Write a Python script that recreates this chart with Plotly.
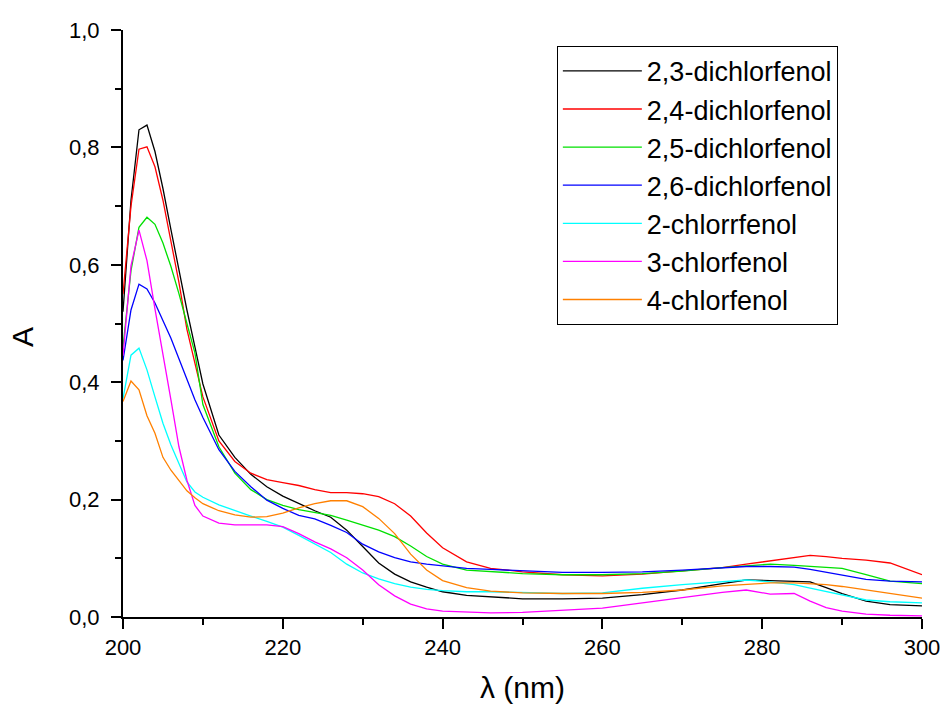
import plotly.graph_objects as go

wavelength = [200, 201, 202, 203, 204, 205, 206, 207, 208, 209, 210, 212, 214, 216, 218, 220,
              222, 224, 226, 228, 230, 232, 234, 236, 238, 240, 243, 246, 250, 255, 260, 265,
              270, 275, 278, 281, 284, 286, 288, 290, 293, 296, 300]

dcp_23 = [0.52, 0.71, 0.830, 0.838, 0.793, 0.73, 0.66, 0.59, 0.523, 0.46, 0.397, 0.31, 0.272, 0.243,
          0.222, 0.206, 0.193, 0.181, 0.170, 0.148, 0.120, 0.092, 0.073, 0.060, 0.051, 0.043, 0.037,
          0.034, 0.031, 0.031, 0.032, 0.038, 0.046, 0.057, 0.063, 0.062, 0.061, 0.060, 0.050, 0.040,
          0.027, 0.021, 0.019]
dcp_24 = [0.55, 0.70, 0.797, 0.801, 0.767, 0.71, 0.64, 0.57, 0.49, 0.43, 0.375, 0.30, 0.265, 0.245,
          0.234, 0.229, 0.224, 0.217, 0.212, 0.212, 0.210, 0.205, 0.193, 0.172, 0.143, 0.118, 0.094,
          0.083, 0.077, 0.072, 0.070, 0.073, 0.079, 0.084, 0.090, 0.096, 0.101, 0.105, 0.103, 0.100,
          0.097, 0.092, 0.072]
dcp_25 = [0.46, 0.59, 0.664, 0.681, 0.669, 0.637, 0.597, 0.551, 0.50, 0.45, 0.362, 0.29, 0.245, 0.217,
          0.200, 0.190, 0.183, 0.178, 0.173, 0.165, 0.157, 0.148, 0.137, 0.121, 0.103, 0.090, 0.080,
          0.077, 0.074, 0.072, 0.072, 0.074, 0.078, 0.084, 0.087, 0.090, 0.088, 0.086, 0.084, 0.083,
          0.072, 0.061, 0.057]
dcp_26 = [0.437, 0.523, 0.567, 0.559, 0.535, 0.505, 0.475, 0.44, 0.404, 0.37, 0.34, 0.285, 0.248, 0.222,
          0.199, 0.185, 0.173, 0.167, 0.156, 0.144, 0.124, 0.111, 0.101, 0.094, 0.090, 0.087, 0.083,
          0.081, 0.079, 0.076, 0.076, 0.077, 0.080, 0.083, 0.086, 0.086, 0.085, 0.081, 0.076, 0.071,
          0.064, 0.061, 0.060]
cp_2 = [0.372, 0.446, 0.458, 0.421, 0.375, 0.33, 0.293, 0.26, 0.23, 0.213, 0.204, 0.191, 0.181, 0.172,
        0.163, 0.153, 0.139, 0.125, 0.110, 0.090, 0.075, 0.065, 0.057, 0.051, 0.047, 0.045, 0.043,
        0.043, 0.042, 0.040, 0.041, 0.049, 0.055, 0.060, 0.063, 0.060, 0.055, 0.049, 0.043, 0.037,
        0.029, 0.026, 0.024]
cp_3 = [0.445, 0.598, 0.659, 0.607, 0.525, 0.45, 0.37, 0.29, 0.233, 0.19, 0.172, 0.160, 0.157, 0.157,
        0.157, 0.154, 0.142, 0.128, 0.116, 0.101, 0.080, 0.055, 0.036, 0.022, 0.014, 0.010, 0.008,
        0.007, 0.008, 0.011, 0.015, 0.024, 0.033, 0.042, 0.046, 0.039, 0.040, 0.027, 0.016, 0.010,
        0.005, 0.003, 0.002]
cp_4 = [0.367, 0.402, 0.387, 0.343, 0.313, 0.272, 0.25, 0.232, 0.215, 0.203, 0.193, 0.181, 0.174, 0.170,
        0.171, 0.177, 0.186, 0.193, 0.198, 0.198, 0.188, 0.168, 0.142, 0.107, 0.080, 0.062, 0.050,
        0.044, 0.041, 0.040, 0.040, 0.042, 0.046, 0.053, 0.056, 0.058, 0.058, 0.057, 0.055, 0.052,
        0.046, 0.040, 0.032]

names = ["2,3-dichlorfenol", "2,4-dichlorfenol", "2,5-dichlorfenol", "2,6-dichlorfenol",
         "2-chlorrfenol", "3-chlorfenol", "4-chlorfenol"]
series = [dcp_23, dcp_24, dcp_25, dcp_26, cp_2, cp_3, cp_4]
colors = ["#000000", "#ff0000", "#00e000", "#0000ff", "#00ffff", "#ff00ff", "#ff8000"]

x_ticks = [200, 220, 240, 260, 280, 300]
x_tick_text = ["200", "220", "240", "260", "280", "300"]
y_ticks = [0.0, 0.2, 0.4, 0.6, 0.8, 1.0]
y_tick_text = ["0,0", "0,2", "0,4", "0,6", "0,8", "1,0"]

fig = go.Figure()
for name, vals, col in zip(names, series, colors):
    fig.add_trace(go.Scatter(x=wavelength, y=vals, mode="lines", name=name,
                             line=dict(color=col, width=1.3)))

font_family = "Liberation Sans, Arial, sans-serif"
fig.update_layout(
    width=944, height=705,
    margin=dict(l=123, r=22, t=30, b=88, autoexpand=False),
    paper_bgcolor="white", plot_bgcolor="white",
    font=dict(family=font_family, color="black", size=22),
    showlegend=True,
    legend=dict(x=0.543, y=0.973, xanchor="left", yanchor="top",
                bordercolor="black", borderwidth=1, bgcolor="white",
                font=dict(size=27, family=font_family), tracegroupgap=0,
                itemwidth=79),
    xaxis=dict(range=[200, 300], tickvals=x_ticks, ticktext=x_tick_text, automargin=False,
               showgrid=False, zeroline=False, showline=True, linecolor="black", linewidth=2,
               ticks="outside", ticklen=10, tickwidth=2, tickcolor="black",
               tickfont=dict(size=22),
               minor=dict(tickvals=[210, 230, 250, 270, 290], ticks="outside", ticklen=6,
                          tickwidth=2, tickcolor="black"),
               title=dict(text="λ (nm)", font=dict(size=30), standoff=18)),
    yaxis=dict(range=[0, 1], tickvals=y_ticks, ticktext=y_tick_text, automargin=False,
               showgrid=False, zeroline=False, showline=True, linecolor="black", linewidth=2,
               ticks="outside", ticklen=10, tickwidth=2, tickcolor="black",
               tickfont=dict(size=22), ticklabelstandoff=7,
               minor=dict(tickvals=[0.1, 0.3, 0.5, 0.7, 0.9], ticks="outside", ticklen=6,
                          tickwidth=2, tickcolor="black")),
    annotations=[dict(text="A", xref="paper", yref="paper", x=-0.1264, y=0.477,
                      xanchor="center", yanchor="middle", textangle=-90, showarrow=False,
                      font=dict(size=30, family=font_family, color="black"))],
)

fig.write_html("out.html")
